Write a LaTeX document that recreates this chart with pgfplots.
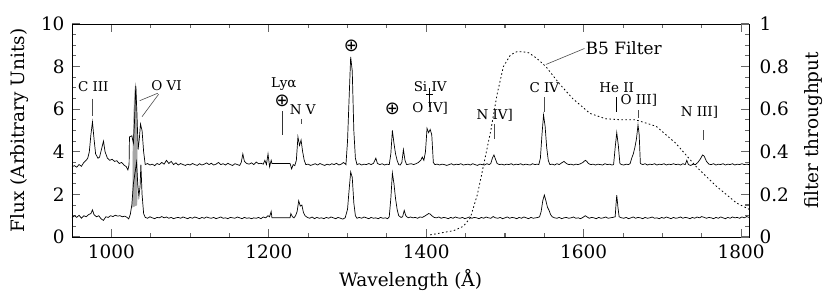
\documentclass[border=0pt]{standalone}
\usepackage{fontspec}
\setmainfont{DejaVu Serif}
\newfontfamily\symf{DejaVu Sans}
\usepackage{pgfplots}
\usepackage{pgfplotstable}
\pgfplotsset{compat=1.18}

% upper spectrum (offset)
\pgfplotstableread{
lam flux
950 3.30
953 3.35
956 3.28
959 3.40
962 3.32
965 3.50
968 3.60
970 3.70
972 4.00
974 4.80
976 5.40
978 4.60
980 3.90
983 3.70
985 3.75
988 4.20
990 4.50
992 4.00
995 3.70
998 3.60
1001 3.65
1004 3.55
1007 3.58
1010 3.45
1013 3.50
1016 3.38
1019 3.30
1021 3.15
1022.5 3.40
1023 4.70
1026 4.75
1028 4.40
1029.5 5.50
1031 7.10
1032.5 5.80
1034 4.10
1035.5 4.60
1037 5.30
1039 5.00
1041 4.00
1043 3.40
1046 3.45
1049 3.38
1052 3.42
1055 3.35
1058 3.45
1061 3.40
1064 3.50
1067 3.42
1070 3.60
1073 3.45
1076 3.55
1079 3.40
1082 3.48
1085 3.38
1088 3.45
1091 3.40
1094 3.36
1097 3.42
1100 3.38
1103 3.45
1106 3.40
1109 3.36
1112 3.44
1115 3.38
1118 3.42
1121 3.48
1124 3.40
1127 3.46
1130 3.38
1133 3.42
1136 3.50
1139 3.40
1142 3.44
1145 3.38
1148 3.46
1151 3.40
1154 3.36
1157 3.44
1160 3.40
1163 3.36
1165 3.50
1167 3.90
1169 3.55
1172 3.45
1175 3.42
1178 3.48
1181 3.40
1184 3.52
1187 3.44
1190 3.46
1193 3.42
1195 3.60
1197 3.40
1199 3.90
1201 3.30
1203 3.60
1204 3.45
1227 3.45
1229 3.20
1231 3.40
1233 3.35
1235 3.60
1237 4.70
1239 4.30
1241 4.55
1243 4.00
1245 3.60
1247 3.40
1250 3.42
1253 3.36
1256 3.40
1259 3.44
1262 3.38
1265 3.45
1268 3.40
1271 3.36
1274 3.42
1277 3.38
1280 3.44
1283 3.40
1286 3.46
1289 3.38
1292 3.42
1295 3.50
1298 3.40
1300 4.50
1302 6.50
1304 8.45
1306 7.80
1308 5.00
1310 3.70
1312 3.40
1315 3.44
1318 3.38
1321 3.42
1324 3.40
1327 3.45
1330 3.40
1333 3.46
1336 3.70
1338 3.45
1341 3.40
1344 3.44
1347 3.38
1350 3.42
1353 3.40
1355 3.90
1357 5.00
1359 4.40
1361 3.90
1363 3.60
1365 3.40
1367 3.38
1369 3.50
1371 4.10
1373 3.60
1375 3.40
1378 3.42
1381 3.44
1384 3.40
1387 3.44
1390 3.50
1393 3.60
1395 3.75
1397 3.60
1399 4.00
1401 5.10
1403 4.90
1405 5.05
1407 4.80
1409 3.50
1411 3.40
1414 3.42
1417 3.38
1420 3.42
1423 3.40
1426 3.36
1429 3.40
1432 3.44
1435 3.38
1438 3.42
1441 3.40
1444 3.44
1447 3.38
1450 3.40
1453 3.42
1456 3.38
1459 3.44
1462 3.40
1465 3.36
1468 3.42
1471 3.40
1474 3.38
1477 3.44
1480 3.40
1482 3.45
1484 3.70
1486 3.85
1488 3.65
1490 3.45
1493 3.40
1496 3.42
1499 3.38
1502 3.42
1505 3.40
1508 3.44
1511 3.38
1514 3.42
1517 3.40
1520 3.44
1523 3.38
1526 3.42
1529 3.40
1532 3.38
1535 3.44
1538 3.40
1541 3.42
1543 3.40
1545 3.70
1547 4.80
1549 5.73
1551 5.20
1553 4.20
1555 3.60
1557 3.40
1560 3.42
1563 3.38
1566 3.44
1569 3.40
1572 3.48
1575 3.55
1578 3.45
1581 3.40
1584 3.42
1587 3.38
1590 3.42
1593 3.40
1596 3.44
1599 3.50
1602 3.60
1604 3.55
1606 3.45
1609 3.40
1612 3.42
1615 3.38
1618 3.42
1621 3.40
1624 3.38
1627 3.44
1630 3.40
1633 3.42
1636 3.38
1638 3.40
1640 4.20
1642 4.90
1644 4.30
1646 3.45
1648 3.40
1651 3.38
1654 3.42
1657 3.40
1659 3.45
1661 3.70
1663 3.90
1665 4.20
1667 4.60
1669 5.26
1670.5 4.80
1672 3.45
1675 3.40
1678 3.44
1681 3.38
1684 3.42
1687 3.40
1690 3.44
1693 3.38
1696 3.42
1699 3.40
1702 3.44
1705 3.38
1708 3.42
1711 3.40
1714 3.44
1717 3.40
1720 3.42
1723 3.38
1726 3.44
1729 3.40
1731 3.60
1733 3.40
1736 3.36
1739 3.42
1742 3.40
1745 3.50
1748 3.65
1751 3.85
1753 3.80
1756 3.55
1759 3.42
1762 3.40
1765 3.44
1768 3.38
1771 3.42
1774 3.40
1777 3.44
1780 3.38
1783 3.42
1786 3.40
1789 3.44
1792 3.38
1795 3.42
1798 3.40
1801 3.44
1804 3.40
1807 3.42
1810 3.40
}\upperspec

% lower spectrum
\pgfplotstableread{
lam flux
950 0.90
953 1.00
956 0.92
959 1.02
962 0.88
965 1.00
968 0.95
971 1.05
974 1.10
976 1.27
978 1.05
981 0.95
984 1.00
987 0.85
990 0.78
993 0.95
996 0.92
999 1.00
1002 0.96
1005 1.02
1008 0.98
1011 1.00
1014 0.95
1017 0.98
1020 0.92
1022 0.85
1024 1.05
1026 1.50
1028 2.50
1030 3.00
1032 3.50
1033.5 2.50
1035 1.90
1036.5 2.40
1037.5 3.40
1039 2.00
1041 1.10
1043 0.92
1046 0.88
1049 0.95
1052 0.90
1055 0.86
1058 0.92
1061 0.90
1064 0.96
1067 0.90
1070 0.94
1073 0.88
1076 0.92
1079 0.86
1082 0.90
1085 0.92
1088 0.88
1091 0.94
1094 0.90
1097 0.86
1100 0.92
1103 0.88
1106 0.94
1109 0.90
1112 0.86
1115 0.92
1118 0.88
1121 0.94
1124 0.90
1127 0.88
1130 0.92
1133 0.86
1136 0.90
1139 0.94
1142 0.88
1145 0.90
1148 0.86
1151 0.92
1154 0.90
1157 0.88
1160 0.94
1163 0.90
1166 0.86
1169 0.92
1172 0.88
1175 0.90
1178 0.86
1181 0.90
1184 0.88
1187 0.92
1190 0.86
1193 0.94
1196 0.90
1199 1.00
1201 0.95
1203 1.20
1204 0.90
1227 0.90
1228 1.10
1230 0.95
1232 0.90
1234 1.00
1236 1.20
1238 1.70
1240 1.45
1242 1.50
1244 1.15
1246 1.00
1249 0.92
1252 0.88
1255 0.94
1258 0.86
1261 0.92
1264 0.88
1267 0.90
1270 0.86
1273 0.92
1276 0.88
1279 0.94
1282 0.90
1285 0.86
1288 0.92
1291 0.88
1294 0.84
1297 0.90
1300 1.30
1302 2.20
1304 3.05
1306 2.80
1308 1.60
1310 1.00
1312 0.88
1315 0.92
1318 0.88
1321 0.94
1324 0.90
1327 0.86
1330 0.92
1333 0.88
1336 0.90
1339 0.86
1342 0.92
1345 0.88
1348 0.90
1351 0.86
1353 0.95
1355 1.80
1357 3.00
1359 2.50
1361 1.80
1363 1.30
1365 1.00
1368 0.92
1370 0.95
1372 1.25
1374 1.00
1377 0.90
1380 0.94
1383 0.90
1386 0.92
1389 0.88
1392 0.94
1395 0.92
1398 0.98
1401 1.05
1403 1.10
1405 1.08
1407 1.00
1410 0.92
1413 0.90
1416 0.94
1419 0.88
1422 0.92
1425 0.90
1428 0.86
1431 0.92
1434 0.88
1437 0.94
1440 0.90
1443 0.88
1446 0.92
1449 0.86
1452 0.90
1455 0.94
1458 0.88
1461 0.92
1464 0.90
1467 0.86
1470 0.92
1473 0.88
1476 0.94
1479 0.90
1482 0.88
1485 0.96
1488 0.90
1491 0.88
1494 0.92
1497 0.86
1500 0.90
1503 0.94
1506 0.88
1509 0.92
1512 0.90
1515 0.86
1518 0.92
1521 0.88
1524 0.94
1527 0.90
1530 0.86
1533 0.92
1536 0.88
1539 0.90
1542 0.92
1544 0.95
1546 1.20
1548 1.70
1550 1.97
1552 1.70
1554 1.40
1556 1.25
1558 1.05
1560 0.95
1563 0.90
1566 0.88
1569 0.92
1572 0.86
1575 0.90
1578 0.92
1581 0.88
1584 0.90
1587 0.94
1590 0.88
1593 0.90
1596 0.86
1599 0.92
1602 1.00
1604 0.95
1607 0.88
1610 0.92
1613 0.90
1616 0.86
1619 0.92
1622 0.88
1625 0.90
1628 0.94
1631 0.88
1634 0.90
1637 0.92
1640 0.95
1641 1.50
1642 1.97
1643.5 1.40
1645 0.95
1648 0.90
1651 0.88
1654 0.92
1657 0.86
1660 0.90
1663 0.94
1666 0.88
1669 0.92
1672 0.90
1675 0.86
1678 0.92
1681 0.88
1684 0.90
1687 0.94
1690 0.88
1693 0.90
1696 0.86
1699 0.92
1702 0.88
1705 0.94
1708 0.90
1711 0.86
1714 0.92
1717 0.88
1720 0.90
1723 0.94
1726 0.88
1729 0.92
1732 0.90
1735 0.86
1738 0.92
1741 0.88
1744 0.94
1747 0.90
1750 0.96
1753 0.92
1756 0.88
1759 0.92
1762 0.90
1765 0.86
1768 0.92
1771 0.88
1774 0.94
1777 0.90
1780 0.86
1783 0.92
1786 0.88
1789 0.94
1792 0.90
1795 0.92
1798 0.88
1801 0.94
1804 0.90
1807 0.96
1810 0.92
}\lowerspec

% B5 filter throughput
\pgfplotstableread{
lam thr
1405 0.01
1420 0.02
1435 0.03
1447 0.05
1456 0.09
1465 0.20
1473 0.34
1482 0.50
1490 0.67
1498 0.80
1507 0.855
1515 0.87
1522 0.87
1530 0.865
1540 0.84
1552 0.80
1569 0.72
1586 0.65
1608 0.58
1628 0.555
1648 0.55
1666 0.55
1692 0.52
1717 0.44
1743 0.33
1768 0.24
1794 0.16
1810 0.13
}\filtercurve

\newcommand{\bigf}{\fontsize{18.5}{20}\selectfont}
\newcommand{\linef}{\fontsize{13.5}{15}\selectfont}
\newcommand{\earth}{{\symf\fontsize{18}{19}\selectfont ⊕}}

\pgfplotsset{
  every tick/.style={black!60, line width=1.1bp},
  major tick length=8bp,
  minor tick length=4bp,
  /pgf/number format/assume math mode=true,
  /pgf/number format/set thousands separator={},
}

\begin{document}
\begin{tikzpicture}
\useasboundingbox (-72bp,-60bp) rectangle (758bp,237bp);

\begin{axis}[
    scale only axis,
    width=677bp, height=213bp,
    xmin=950, xmax=1810,
    ymin=0, ymax=10,
    xtick={1000,1200,1400,1600,1800},
    minor x tick num=3,
    ytick={0,2,4,6,8,10},
    minor y tick num=3,
    tick align=inside,
    xtick pos=both, xticklabel pos=lower,
    ytick pos=left,
    axis line style={line width=0.8bp},
    tick label style={font=\bigf},
    x tick label style={yshift=-4bp},
    y tick label style={xshift=-4bp},
    label style={font=\bigf},
    xlabel={Wavelength (Å)},
    ylabel={Flux (Arbitrary Units)},
    xlabel style={at={(axis description cs:0.5,-0.202)}, anchor=center},
    ylabel style={at={(axis description cs:-0.077,0.5)}, anchor=center},
    clip=false,
]
% blended region under O VI
\addplot[fill=black!35, draw=black!35] coordinates {
  (1027,1.4) (1027.5,4.5) (1029,6.4) (1030.5,7.2) (1031.5,7.0) (1032.5,4.8) (1033,2.5) (1032.5,1.5)
} -- cycle;

\addplot[black, line width=0.7bp] table[x=lam, y=flux] {\upperspec};
\addplot[black, line width=0.7bp] table[x=lam, y=flux] {\lowerspec};

% line identifications
\begin{scope}[font=\linef, black]
\node at (axis cs:977,7.05) {C III};
\draw[black!70, line width=0.6bp] (axis cs:976,6.5) -- (axis cs:976,5.7);

\node at (axis cs:1070,7.1) {O VI};
\draw[black!70, line width=0.6bp] (axis cs:1059,6.75) -- (axis cs:1036,6.4);
\draw[black!70, line width=0.6bp] (axis cs:1060,6.7) -- (axis cs:1039,5.65);

\node at (axis cs:1219,7.2) {Lyα};
\node[inner sep=0pt] at (axis cs:1217,6.4) {\earth};
\draw[black!80, line width=0.6bp] (axis cs:1217,5.9) -- (axis cs:1217,4.8);
\node at (axis cs:1243,5.96) {N V};
\draw[black!70, line width=0.6bp] (axis cs:1241,5.55) -- (axis cs:1241,5.3);

\node[inner sep=0pt] at (axis cs:1305,8.95) {\earth};
\node[inner sep=0pt] at (axis cs:1357,6.0) {\earth};

\node at (axis cs:1405,7.05) {Si IV};
\draw[black, line width=0.6bp] (axis cs:1404,7.0) -- (axis cs:1404,6.1);
\draw[black, line width=0.6bp] (axis cs:1400,6.72) -- (axis cs:1408,6.72);
\node at (axis cs:1405,6.05) {O IV]};

\node at (axis cs:1487,5.7) {N IV]};
\draw[black!70, line width=0.6bp] (axis cs:1486,5.3) -- (axis cs:1486,4.6);

\node at (axis cs:1550,7.0) {C IV};
\draw[black!70, line width=0.6bp] (axis cs:1550,6.57) -- (axis cs:1550,5.87);

\node at (axis cs:1642,7.0) {He II};
\draw[black, line width=0.6bp] (axis cs:1641,6.57) -- (axis cs:1641,5.87);
\node at (axis cs:1670,6.43) {O III]};
\draw[black!70, line width=0.6bp] (axis cs:1669,5.96) -- (axis cs:1669,5.59);

\node at (axis cs:1747,5.85) {N III]};
\draw[black!70, line width=0.6bp] (axis cs:1752,5.0) -- (axis cs:1752,4.55);
\end{scope}
\end{axis}

\begin{axis}[
    scale only axis,
    width=677bp, height=213bp,
    xmin=950, xmax=1810,
    ymin=0, ymax=1,
    axis x line=none,
    axis y line*=right,
    ytick={0,0.2,0.4,0.6,0.8,1},
    minor y tick num=3,
    tick align=inside,
    axis line style={line width=0.8bp},
    tick label style={font=\bigf},
    y tick label style={xshift=7bp},
    label style={font=\bigf},
    ylabel={filter throughput},
    ylabel style={at={(axis description cs:1.095,0.5)}, anchor=center, rotate=0},
    clip=false,
]
\addplot[black, line width=0.8bp, dash pattern=on 1.6bp off 2.4bp] table[x=lam, y=thr] {\filtercurve};
\draw[black!70, line width=0.6bp] (axis cs:1552,0.81) -- (axis cs:1601,0.885);
\node[anchor=west, inner sep=1bp, font=\fontsize{17}{18}\selectfont] at (axis cs:1601,0.885) {B5 Filter};
\end{axis}
\end{tikzpicture}
\end{document}
